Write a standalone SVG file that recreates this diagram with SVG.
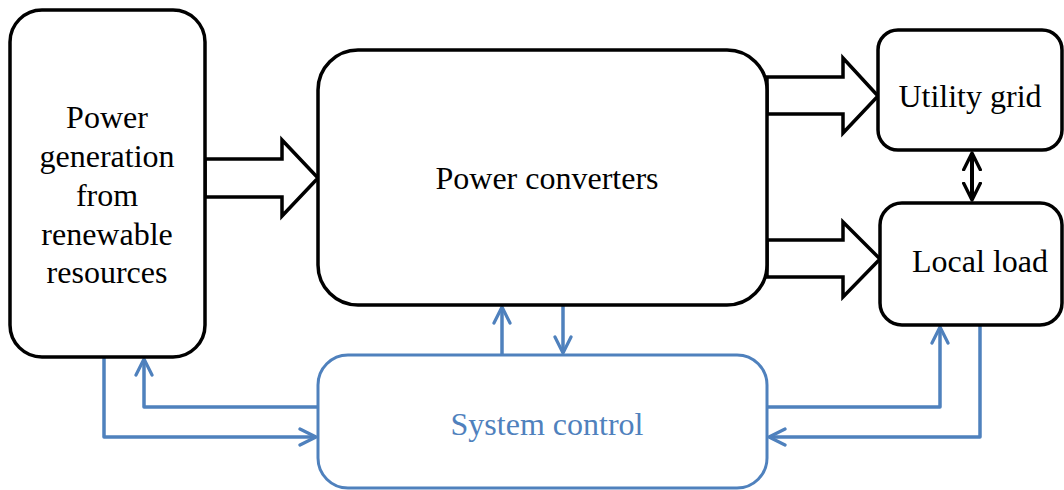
<svg xmlns="http://www.w3.org/2000/svg" width="1064" height="490" viewBox="0 0 1064 490">
<defs>
<style>
.box{fill:#fff;stroke:#000;stroke-width:3.5}
.ctl{fill:#fff;stroke:#4f81bd;stroke-width:3}
.t{font-family:"Liberation Serif","Times New Roman",serif;font-size:32px;fill:#000;text-anchor:middle}
.tb{fill:#4f81bd}
.blk{fill:#fff;stroke:#000;stroke-width:3.5;stroke-linejoin:miter}
.bl{fill:none;stroke:#4f81bd;stroke-width:3.5;stroke-linejoin:round}
.dbl{fill:none;stroke:#000;stroke-width:4}
</style>
<marker id="ab" viewBox="0 0 12 12" refX="11" refY="6" markerWidth="5.5" markerHeight="5.5" orient="auto-start-reverse" markerUnits="strokeWidth">
<path d="M1,1 L11,6 L1,11" fill="none" stroke="#4f81bd" stroke-width="2" stroke-linecap="round" stroke-linejoin="round"/>
</marker>
<marker id="ak" viewBox="0 0 12 12" refX="11" refY="6" markerWidth="5" markerHeight="5" orient="auto-start-reverse" markerUnits="strokeWidth">
<path d="M1,1 L11,6 L1,11" fill="none" stroke="#000" stroke-width="2" stroke-linecap="round" stroke-linejoin="round"/>
</marker>
</defs>
<rect width="1064" height="490" fill="#fff"/>
<g id="connectors">
<path class="blk" d="M205,159 L282,159 L282,140 L318,178 L282,216 L282,197 L205,197 Z"/>
<path class="blk" d="M767,77 L843,77 L843,58 L878,96 L843,133 L843,114 L767,114 Z"/>
<path class="blk" d="M767,240 L843,240 L843,222 L880,259 L843,297 L843,277 L767,277 Z"/>
<line class="dbl" x1="972" y1="153" x2="972" y2="200" marker-start="url(#ak)" marker-end="url(#ak)"/>
<path class="bl" d="M104,357 L104,437 L316,437" marker-end="url(#ab)"/>
<path class="bl" d="M318,407 L144,407 L144,359" marker-end="url(#ab)"/>
<path class="bl" d="M502,355 L502,307" marker-end="url(#ab)"/>
<path class="bl" d="M563,305 L563,353" marker-end="url(#ab)"/>
<path class="bl" d="M767,407 L940,407 L940,327" marker-end="url(#ab)"/>
<path class="bl" d="M980,325 L980,437 L769,437" marker-end="url(#ab)"/>
</g>
<g id="renewable">
<rect class="box" x="10" y="10" width="195" height="347" rx="32"/>
<text class="t" x="107" y="128">Power</text>
<text class="t" x="107" y="167">generation</text>
<text class="t" x="107" y="206">from</text>
<text class="t" x="107" y="245">renewable</text>
<text class="t" x="107" y="283">resources</text>
</g>
<g id="converters">
<rect class="box" x="318" y="50" width="449" height="255" rx="40"/>
<text class="t" x="547" y="189">Power converters</text>
</g>
<g id="grid">
<rect class="box" x="878" y="30" width="184" height="120" rx="20"/>
<text class="t" x="970" y="107">Utility grid</text>
</g>
<g id="load">
<rect class="box" x="880" y="203" width="182" height="122" rx="22"/>
<text class="t" x="980" y="272">Local load</text>
</g>
<g id="control">
<rect class="ctl" x="318" y="355" width="449" height="133" rx="30"/>
<text class="t tb" x="547" y="435">System control</text>
</g>
</svg>
